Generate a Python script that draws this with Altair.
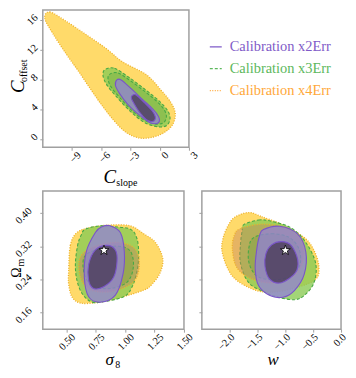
import altair as alt
import pandas as pd

FONT = "Liberation Serif"
GRAY = "#a0a0a0"

# ---------------- legend / series ----------------
SERIES = ["Calibration x2Err", "Calibration x3Err", "Calibration x4Err"]
SERIES_COLORS = ["#7f5bc8", "#5cb85c", "#ffa83a"]
SERIES_DASH = [[1, 0], [3, 2], [1, 1.5]]

# ---------------- axis ticks ----------------
TOP_X_TICKS = [-9, -6, -3, 0, 3]
TOP_Y_TICKS = [0, 4, 8, 12, 16]
S8_TICKS = [0.5, 0.75, 1.0, 1.25, 1.5]
OM_TICKS = [0.16, 0.24, 0.32, 0.40]
W_TICKS = [-2.0, -1.5, -1.0, -0.5, 0.0]

# ---------------- contour outlines (data coordinates) ----------------
# top panel: C_slope (x) vs C_offset (y)
TOP_X4_95_X = [-11.80, -11.28, -9.58, -7.53, -5.49, -3.79, -1.40, 0.14, 1.16, 1.60, 1.32, 0.47, -0.72, -2.08, -3.44, -4.64, -5.87, -7.09, -8.32, -9.58, -10.95]
TOP_X4_95_Y = [16.21, 17.04, 15.78, 13.98, 12.13, 10.33, 8.65, 6.55, 4.87, 3.40, 1.93, 0.88, 0.25, 0.13, 0.88, 2.39, 4.41, 6.68, 9.07, 11.37, 14.11]
TOP_X3_95_X = [-5.56, -4.64, -3.10, -1.40, -0.04, 0.81, 1.06, 0.81, 0.30, -0.55, -1.74, -3.10, -4.46, -5.49, -5.83]
TOP_X3_95_Y = [9.36, 9.48, 8.22, 6.55, 5.08, 3.82, 2.77, 1.93, 1.64, 1.73, 2.36, 3.82, 5.71, 7.39, 8.65]
TOP_X3_68_X = [-5.07, -4.27, -2.93, -1.45, -0.27, 0.47, 0.69, 0.47, 0.03, -0.71, -1.75, -2.93, -4.11, -5.01, -5.31]
TOP_X3_68_Y = [8.74, 8.85, 7.75, 6.30, 5.02, 3.92, 3.01, 2.28, 2.02, 2.10, 2.65, 3.92, 5.57, 7.03, 8.13]
TOP_X2_95_X = [-4.40, -3.95, -2.93, -1.74, -0.72, -0.11, -0.04, -0.37, -1.06, -2.08, -3.28, -4.13, -4.54]
TOP_X2_95_Y = [7.93, 7.93, 6.76, 5.29, 4.03, 2.99, 2.36, 2.06, 2.23, 3.20, 4.66, 6.13, 7.18]
TOP_X2_68_X = [-2.83, -2.42, -1.57, -0.78, -0.45, -0.55, -0.89, -1.40, -2.08, -2.59, -2.90]
TOP_X2_68_Y = [5.83, 5.92, 4.87, 3.81, 2.98, 2.48, 2.36, 2.64, 3.61, 4.66, 5.42]

# bottom-left panel: sigma_8 (x) vs Omega_m (y)
S8_X4_95_X = [0.520, 0.534, 0.591, 0.704, 0.874, 1.044, 1.157, 1.257, 1.319, 1.299, 1.231, 1.157, 0.931, 0.761, 0.619, 0.548, 0.520]
S8_X4_95_Y = [0.260, 0.322, 0.353, 0.365, 0.371, 0.369, 0.350, 0.329, 0.291, 0.257, 0.229, 0.214, 0.194, 0.184, 0.183, 0.198, 0.229]
S8_X4_68_X = [0.619, 0.747, 0.942, 1.078, 1.121, 1.070, 0.891, 0.704, 0.619]
S8_X4_68_Y = [0.294, 0.320, 0.329, 0.315, 0.276, 0.234, 0.211, 0.215, 0.246]
S8_X3_95_X = [0.662, 0.789, 0.902, 1.044, 1.101, 1.115, 1.101, 1.059, 0.987, 0.789, 0.704, 0.634, 0.591, 0.577, 0.596, 0.625]
S8_X3_95_Y = [0.361, 0.369, 0.367, 0.361, 0.338, 0.299, 0.260, 0.222, 0.198, 0.185, 0.187, 0.206, 0.237, 0.276, 0.322, 0.346]
S8_X3_68_X = [0.653, 0.772, 0.942, 1.044, 1.070, 1.019, 0.874, 0.721, 0.653]
S8_X3_68_Y = [0.294, 0.313, 0.320, 0.308, 0.271, 0.234, 0.218, 0.225, 0.253]
S8_X2_95_X = [0.874, 0.959, 0.993, 0.982, 0.917, 0.789, 0.690, 0.653, 0.670, 0.747, 0.804]
S8_X2_95_Y = [0.369, 0.353, 0.307, 0.253, 0.202, 0.185, 0.198, 0.245, 0.307, 0.353, 0.367]
S8_X2_68_X = [0.846, 0.917, 0.931, 0.902, 0.817, 0.732, 0.690, 0.690, 0.747]
S8_X2_68_Y = [0.322, 0.311, 0.283, 0.245, 0.222, 0.218, 0.237, 0.276, 0.311]

# bottom-right panel: w (x) vs Omega_m (y)
W_X4_95_X = [-1.630, -1.424, -1.072, -0.662, -0.486, -0.398, -0.456, -0.808, -1.248, -1.600, -1.952, -2.129, -2.116, -1.982, -1.835]
W_X4_95_Y = [0.401, 0.391, 0.373, 0.341, 0.310, 0.271, 0.240, 0.220, 0.209, 0.217, 0.248, 0.302, 0.341, 0.380, 0.395]
W_X4_68_X = [-1.812, -1.424, -0.984, -0.720, -0.667, -0.808, -1.160, -1.565, -1.864, -1.952, -1.917]
W_X4_68_Y = [0.362, 0.373, 0.364, 0.336, 0.294, 0.253, 0.232, 0.239, 0.267, 0.313, 0.346]
W_X3_95_X = [-1.746, -1.482, -1.248, -0.896, -0.632, -0.456, -0.486, -0.662, -0.838, -1.130, -1.366, -1.658, -1.806, -1.806, -1.776]
W_X3_95_Y = [0.372, 0.383, 0.380, 0.364, 0.329, 0.279, 0.232, 0.201, 0.191, 0.197, 0.209, 0.232, 0.279, 0.325, 0.357]
W_X3_68_X = [-1.565, -1.248, -0.931, -0.755, -0.738, -0.896, -1.213, -1.512, -1.653, -1.653]
W_X3_68_Y = [0.341, 0.350, 0.341, 0.313, 0.276, 0.248, 0.239, 0.248, 0.280, 0.318]
W_X2_95_X = [-1.394, -1.102, -0.778, -0.632, -0.662, -0.838, -1.042, -1.278, -1.482, -1.542, -1.512, -1.465]
W_X2_95_Y = [0.360, 0.368, 0.349, 0.306, 0.252, 0.213, 0.197, 0.201, 0.225, 0.267, 0.314, 0.345]
W_X2_68_X = [-1.072, -0.896, -0.778, -0.820, -1.072, -1.278, -1.366, -1.349, -1.248]
W_X2_68_Y = [0.331, 0.322, 0.287, 0.256, 0.232, 0.240, 0.271, 0.302, 0.323]

# fiducial (star) values
S8_STAR = [0.82]
OM_STAR = [0.31]
W_STAR = [-1.0]

CONTOURS = [
    ("top", "Y95", TOP_X4_95_X, TOP_X4_95_Y),
    ("top", "G95", TOP_X3_95_X, TOP_X3_95_Y),
    ("top", "G68", TOP_X3_68_X, TOP_X3_68_Y),
    ("top", "P95", TOP_X2_95_X, TOP_X2_95_Y),
    ("top", "P68", TOP_X2_68_X, TOP_X2_68_Y),
    ("s8", "Y95", S8_X4_95_X, S8_X4_95_Y),
    ("s8", "Y68", S8_X4_68_X, S8_X4_68_Y),
    ("s8", "G95", S8_X3_95_X, S8_X3_95_Y),
    ("s8", "G68", S8_X3_68_X, S8_X3_68_Y),
    ("s8", "P95", S8_X2_95_X, S8_X2_95_Y),
    ("s8", "P68", S8_X2_68_X, S8_X2_68_Y),
    ("w", "Y95", W_X4_95_X, W_X4_95_Y),
    ("w", "Y68", W_X4_68_X, W_X4_68_Y),
    ("w", "G95", W_X3_95_X, W_X3_95_Y),
    ("w", "G68", W_X3_68_X, W_X3_68_Y),
    ("w", "P95", W_X2_95_X, W_X2_95_Y),
    ("w", "P68", W_X2_68_X, W_X2_68_Y),
]

rows = []
for panel, key, xs, ys in CONTOURS:
    for i, (x, y) in enumerate(zip(xs, ys)):
        rows.append({"panel": panel, "key": key, "i": i, "x": x, "y": y})
df = pd.DataFrame(rows)

ORDER = ["Y95", "G95", "Y68", "G68", "P95", "P68"]
STYLE = {
    "Y95": dict(fill="#FFC107", fillOpacity=0.6, stroke="#EDB02A", strokeDash=[1, 1.5], strokeWidth=1.3),
    "Y68": dict(fill="#C8845A", fillOpacity=0.45, stroke="#EDB02A", strokeDash=[1, 1.5], strokeWidth=1.3),
    "G95": dict(fill="#8BCB55", fillOpacity=0.8, stroke="#48A845", strokeDash=[3, 2], strokeWidth=1.1),
    "G68": dict(fill="#5E9E3A", fillOpacity=0.3, stroke="#48A845", strokeDash=[3, 2], strokeWidth=1.1),
    "P95": dict(fill="#9180D8", fillOpacity=0.75, stroke="#7A55C8", strokeWidth=1.1),
    "P68": dict(fill="#40314D", fillOpacity=0.7, stroke="#7A55C8", strokeWidth=1.1),
}

STAR = ("M0,-1L0.235,-0.324L0.951,-0.309L0.380,0.124L0.588,0.809L0,0.4"
        "L-0.588,0.809L-0.380,0.124L-0.951,-0.309L-0.235,-0.324Z")


def xaxis(values, fmt, offset=7):
    return alt.Axis(values=values, format=fmt, title=None, labelAngle=315, labelAlign="right",
                    labelBaseline="middle", labelOffset=offset, labelPadding=3, tickSize=3,
                    domain=False, grid=False)


def yaxis(values, fmt, pad, labels=True):
    return alt.Axis(values=values, format=fmt, title=None, labelAngle=315, labelAlign="right",
                    labelBaseline="middle", labelOffset=-4, labelPadding=pad, tickSize=3,
                    domain=False, grid=False, labels=labels)


def contour_layers(panel, xenc, yenc):
    out = []
    for key in ORDER:
        sub = df[(df.panel == panel) & (df.key == key)]
        if len(sub) == 0:
            continue
        out.append(
            alt.Chart(sub).mark_line(interpolate="cardinal-closed", clip=True, **STYLE[key])
            .encode(x=xenc, y=yenc, order=alt.Order("i:Q"))
        )
    return out


def text(s, x, y, size, angle=0, italic=False, align="left"):
    kw = dict(font=FONT, fontSize=size, align=align, baseline="alphabetic", color="black")
    if angle:
        kw["angle"] = angle
    if italic:
        kw["fontStyle"] = "italic"
    return alt.Chart(pd.DataFrame({"t": [s]})).mark_text(**kw).encode(
        text="t:N", x=alt.value(x), y=alt.value(y))


def star_layer(xs, ys, xenc, yenc):
    return alt.Chart(pd.DataFrame({"x": xs, "y": ys})).mark_point(
        shape=STAR, size=110, filled=True, fill="white", stroke="black", strokeWidth=0.8, opacity=1
    ).encode(x=xenc, y=yenc)


def left_pin(h):
    # invisible layout guide: fixes the left edge of the figure 34px left of the plot area
    return alt.Chart(pd.DataFrame({"t": [0]})).mark_rule(opacity=0).encode(
        x=alt.value(-34), y=alt.value(0), y2=alt.value(h))


# ---- top panel ----
tx = alt.X("x:Q", scale=alt.Scale(domain=[-12, 3], nice=False, zero=False), axis=xaxis(TOP_X_TICKS, ".0f"))
ty = alt.Y("y:Q", scale=alt.Scale(domain=[-1.1, 17.3], nice=False, zero=False), axis=yaxis(TOP_Y_TICKS, ".0f", 4))
top = alt.layer(
    *contour_layers("top", tx, ty),
    left_pin(138),
    text("C", 61, 174, 19, italic=True),
    text("slope", 74, 177, 10),
    text("C", -19, 77, 19, angle=270, italic=True, align="center"),
    text("offset", -16, 61, 10, angle=270, align="center"),
).properties(width=147, height=138)

# ---- legend ----
leg = pd.DataFrame({"label": SERIES})
ly = alt.Y("label:N", scale=alt.Scale(type="point", domain=SERIES, range=[37, 81], padding=0), axis=None)
lc = alt.Color("label:N", scale=alt.Scale(domain=SERIES, range=SERIES_COLORS), legend=None)
legend = alt.layer(
    alt.Chart(leg).mark_rule(strokeWidth=1.2).encode(
        y=ly, x=alt.value(8), x2=alt.value(20), color=lc,
        strokeDash=alt.StrokeDash("label:N", scale=alt.Scale(domain=SERIES, range=SERIES_DASH), legend=None)),
    alt.Chart(leg).mark_text(align="left", baseline="middle", font=FONT, fontSize=14.5).encode(
        y=ly, x=alt.value(28), text="label:N", color=lc),
).properties(width=140, height=138, view=alt.ViewBackground(strokeWidth=0))

# ---- bottom-left panel ----
sx = alt.X("x:Q", scale=alt.Scale(domain=[0.3, 1.5], nice=False, zero=False), axis=xaxis(S8_TICKS, ".2f"))
sy = alt.Y("y:Q", scale=alt.Scale(domain=[0.12, 0.453], nice=False, zero=False), axis=yaxis(OM_TICKS, ".2f", 10))
bl = alt.layer(
    *contour_layers("s8", sx, sy),
    star_layer(S8_STAR, OM_STAR, sx, sy),
    left_pin(139),
    text("σ", 63, 175, 17, italic=True),
    text("8", 73, 178, 10),
    text("Ω", -22, 82, 14, angle=270, align="center"),
    text("m", -19, 72, 10, angle=270, align="center"),
).properties(width=142, height=139)

# ---- bottom-right panel ----
wx = alt.X("x:Q", scale=alt.Scale(domain=[-2.5, 0.0], nice=False, zero=False), axis=xaxis(W_TICKS, ".1f", offset=3))
wy = alt.Y("y:Q", scale=alt.Scale(domain=[0.12, 0.453], nice=False, zero=False), axis=yaxis(OM_TICKS, ".2f", 10, labels=False))
br = alt.layer(
    *contour_layers("w", wx, wy),
    star_layer(W_STAR, OM_STAR, wx, wy),
    text("w", 66, 175, 17, italic=True),
).properties(width=140, height=139)

chart = (
    alt.concat(top, legend, bl, br, columns=2, spacing=alt.RowColnumber(row=43, column=13),
               bounds="flush", align="all")
    .properties(padding={"left": 0, "top": 0, "right": -1, "bottom": -2})
    .configure_view(stroke=GRAY, strokeWidth=1.5)
    .configure_axis(labelFont=FONT, labelFontSize=10.5, labelColor="black", tickColor=GRAY, tickWidth=1)
)

chart.save("out.html", embed_options={"renderer": "svg", "actions": False})
